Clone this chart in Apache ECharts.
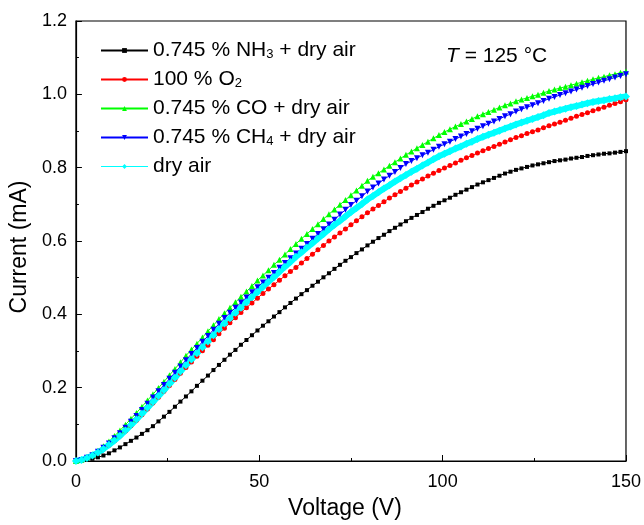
<!DOCTYPE html>
<html>
<head>
<meta charset="utf-8">
<script src="https://cdn.jsdelivr.net/npm/echarts@6/dist/echarts.min.js"></script>
<style>
  html, body { margin: 0; padding: 0; background: #fff; }
  #chart { width: 644px; height: 525px; }
</style>
</head>
<body>
<div id="chart"></div>
<script>
const FONT = '"Liberation Sans", Arial, sans-serif';

// voltage grid of the sweep (V)
const voltage = [0,1.5,3,4.5,6,7.5,9,10.5,12,13.5,15,16.5,18,19.5,21,22.5,24,25.5,27,28.5,30,
	31.5,33,34.5,36,37.5,39,40.5,42,43.5,45,46.5,48,49.5,51,52.5,54,55.5,57,58.5,60,
	61.5,63,64.5,66,67.5,69,70.5,72,73.5,75,76.5,78,79.5,81,82.5,84,85.5,87,88.5,90,
	91.5,93,94.5,96,97.5,99,100.5,102,103.5,105,106.5,108,109.5,111,112.5,114,115.5,117,118.5,120,
	121.5,123,124.5,126,127.5,129,130.5,132,133.5,135,136.5,138,139.5,141,142.5,144,145.5,147,148.5,150];

// current (mA) per atmosphere
const nh3 = [0,
	0.001,0.003,0.006,0.010,0.015,0.021,0.029,0.037,0.046,0.055,0.064,0.074,0.084,0.095,0.108,0.121,0.134,0.148,0.162,0.176,
	0.190,0.205,0.219,0.233,0.248,0.262,0.276,0.290,0.303,0.317,0.330,0.343,0.356,0.369,0.381,0.394,0.406,0.419,0.431,0.443,
	0.455,0.466,0.478,0.489,0.501,0.512,0.524,0.535,0.546,0.556,0.567,0.577,0.588,0.598,0.608,0.617,0.627,0.636,0.645,0.654,
	0.663,0.671,0.679,0.688,0.696,0.704,0.711,0.718,0.726,0.733,0.740,0.747,0.754,0.760,0.766,0.772,0.778,0.784,0.789,0.794,
	0.798,0.802,0.806,0.809,0.812,0.815,0.818,0.820,0.822,0.825,0.827,0.829,0.832,0.834,0.836,0.838,0.839,0.841,0.843,0.845];
const o2 = [0,
	0.003,0.008,0.014,0.022,0.032,0.043,0.055,0.068,0.082,0.096,0.111,0.126,0.142,0.158,0.174,0.190,0.206,0.222,0.239,0.255,
	0.270,0.286,0.301,0.316,0.331,0.347,0.362,0.377,0.391,0.405,0.418,0.431,0.444,0.457,0.469,0.481,0.493,0.505,0.517,0.528,
	0.540,0.552,0.564,0.576,0.588,0.600,0.611,0.622,0.633,0.644,0.655,0.666,0.677,0.687,0.697,0.707,0.717,0.726,0.735,0.744,
	0.753,0.761,0.769,0.777,0.785,0.792,0.799,0.806,0.813,0.820,0.827,0.833,0.840,0.846,0.852,0.858,0.864,0.870,0.876,0.882,
	0.887,0.893,0.898,0.903,0.909,0.914,0.919,0.924,0.929,0.935,0.940,0.945,0.950,0.955,0.960,0.965,0.970,0.975,0.980,0.985];
const co = [0,
	0.004,0.010,0.018,0.028,0.040,0.053,0.068,0.083,0.099,0.115,0.131,0.148,0.165,0.182,0.199,0.216,0.234,0.251,0.269,0.287,
	0.304,0.320,0.337,0.354,0.370,0.387,0.403,0.418,0.433,0.448,0.462,0.477,0.492,0.506,0.520,0.535,0.549,0.563,0.578,0.592,
	0.606,0.619,0.633,0.646,0.660,0.673,0.686,0.699,0.712,0.725,0.738,0.751,0.764,0.775,0.785,0.795,0.805,0.815,0.825,0.835,
	0.844,0.853,0.862,0.871,0.880,0.889,0.897,0.905,0.912,0.919,0.926,0.933,0.940,0.946,0.952,0.958,0.964,0.970,0.975,0.981,
	0.986,0.990,0.995,0.999,1.004,1.009,1.013,1.017,1.021,1.025,1.029,1.033,1.037,1.041,1.045,1.048,1.052,1.055,1.059,1.062];
const ch4 = [0,
	0.003,0.009,0.016,0.025,0.036,0.048,0.062,0.076,0.091,0.107,0.123,0.139,0.156,0.173,0.190,0.207,0.224,0.241,0.258,0.275,
	0.292,0.308,0.325,0.341,0.358,0.374,0.390,0.404,0.418,0.432,0.446,0.460,0.474,0.487,0.500,0.513,0.527,0.540,0.553,0.566,
	0.579,0.592,0.606,0.619,0.632,0.645,0.658,0.672,0.685,0.698,0.710,0.722,0.735,0.746,0.757,0.768,0.778,0.788,0.799,0.810,
	0.818,0.826,0.834,0.841,0.849,0.857,0.864,0.871,0.878,0.885,0.892,0.899,0.906,0.913,0.920,0.926,0.933,0.940,0.946,0.953,
	0.959,0.965,0.970,0.976,0.982,0.988,0.993,0.998,1.003,1.008,1.013,1.018,1.023,1.028,1.032,1.037,1.041,1.046,1.050,1.055];
const dryAir = [0,
	0.003,0.008,0.015,0.023,0.033,0.044,0.056,0.069,0.083,0.098,0.113,0.129,0.145,0.161,0.177,0.193,0.210,0.227,0.244,0.261,
	0.277,0.294,0.310,0.326,0.343,0.359,0.375,0.389,0.404,0.418,0.433,0.447,0.461,0.475,0.489,0.502,0.516,0.530,0.543,0.557,
	0.569,0.582,0.594,0.607,0.619,0.632,0.644,0.655,0.667,0.679,0.690,0.701,0.713,0.723,0.733,0.743,0.752,0.762,0.771,0.780,
	0.789,0.797,0.806,0.814,0.823,0.831,0.838,0.845,0.852,0.858,0.865,0.871,0.878,0.884,0.890,0.895,0.901,0.907,0.912,0.918,
	0.923,0.928,0.933,0.938,0.943,0.949,0.953,0.957,0.961,0.965,0.968,0.972,0.976,0.979,0.982,0.984,0.987,0.989,0.992,0.994];

const seriesNames = ['nh3', 'o2', 'co', 'ch4', 'air'];
const legendLabels = {
	nh3: '0.745 % NH{sub|3} + dry air',
	o2: '100 % O{sub|2}',
	co: '0.745 % CO + dry air',
	ch4: '0.745 % CH{sub|4} + dry air',
	air: 'dry air'
};

function pairs(ys) {
	return voltage.map((v, i) => [v, ys[i]]);
}

function lineSeries(name, ys, color, symbol, size, extra) {
	return Object.assign({
		name: name,
		type: 'line',
		data: pairs(ys),
		symbol: symbol,
		symbolSize: size,
		showAllSymbol: true,
		color: color,
		lineStyle: { color: color, width: 1 },
		itemStyle: { color: color },
		emphasis: { disabled: true }
	}, extra || {});
}

const chart = echarts.init(document.getElementById('chart'));

chart.setOption({
	animation: false,
	backgroundColor: '#fff',
	textStyle: { fontFamily: FONT },
	grid: {
		left: 74, right: 16, top: 21, bottom: 60,
		show: true, borderColor: '#000', borderWidth: 1.2
	},
	legend: {
		orient: 'vertical',
		left: 95, top: 35,
		itemWidth: 47, itemHeight: 6, itemGap: 8,
		data: seriesNames.map(n => n === 'air'
			? { name: n, lineStyle: { width: 1 }, itemStyle: { color: '#00ffff' } }
			: { name: n }),
		formatter: name => legendLabels[name],
		textStyle: {
			fontFamily: FONT, fontSize: 21, color: '#000', lineHeight: 21,
			rich: { sub: { fontFamily: FONT, fontSize: 13, lineHeight: 13, padding: [8, 0, 0, 0], color: '#000' } }
		}
	},
	graphic: [{
		type: 'text',
		left: 446, top: 46,
		style: {
			text: '{i|T} = 125 °C',
			fontFamily: FONT, fontSize: 21, fill: '#000',
			rich: { i: { fontFamily: FONT, fontSize: 21, fontStyle: 'italic' } }
		}
	}],
	xAxis: {
		type: 'value',
		min: 0, max: 150, interval: 50,
		name: 'Voltage (V)',
		nameLocation: 'middle',
		nameGap: 36,
		nameTextStyle: { fontFamily: FONT, fontSize: 23, color: '#000', padding: [0, 12, 0, 0] },
		axisLine: { show: true, lineStyle: { color: '#000', width: 1.2 } },
		axisTick: { show: true, inside: true, length: 6, lineStyle: { color: '#000' } },
		minorTick: { show: true, splitNumber: 2, length: 3, lineStyle: { color: '#000' } },
		axisLabel: { fontFamily: FONT, fontSize: 18, color: '#000', margin: 12 },
		splitLine: { show: false }
	},
	yAxis: {
		type: 'value',
		min: 0, max: 1.2, interval: 0.2,
		name: 'Current (mA)',
		nameLocation: 'middle',
		nameGap: 40,
		nameTextStyle: { fontFamily: FONT, fontSize: 23, color: '#000', padding: [0, 12, 0, 0] },
		axisLine: { show: true, lineStyle: { color: '#000', width: 1.2 } },
		axisTick: { show: true, inside: true, length: 6, lineStyle: { color: '#000' } },
		minorTick: { show: true, splitNumber: 2, length: 3, lineStyle: { color: '#000' } },
		axisLabel: { fontFamily: FONT, fontSize: 18, color: '#000', margin: 9, formatter: v => v.toFixed(1) },
		splitLine: { show: false }
	},
	series: [
		lineSeries('nh3', nh3, '#000000', 'rect', 4),
		lineSeries('o2', o2, '#ff0000', 'circle', 5),
		lineSeries('co', co, '#00ff00', 'triangle', 6),
		lineSeries('ch4', ch4, '#0000ff', 'triangle', 6, { symbolRotate: 180 }),
		lineSeries('air', dryAir, '#00ffff', 'diamond', 8, { lineStyle: { color: '#00ffff', width: 6 } })
	]
});
</script>
</body>
</html>
